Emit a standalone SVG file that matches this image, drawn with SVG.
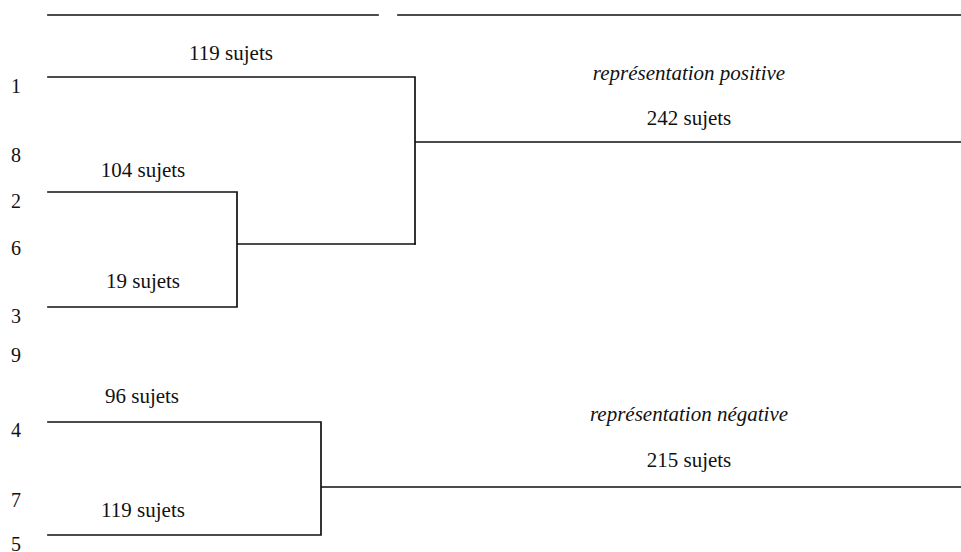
<svg xmlns="http://www.w3.org/2000/svg" width="961" height="552" viewBox="0 0 961 552">
<style>
  text { font-family: "Liberation Serif", "Times New Roman", serif; fill: #111; }
  .n { font-size: 20px; }
  .lbl { font-size: 21px; text-anchor: middle; }
  .it { font-size: 21px; font-style: italic; text-anchor: middle; }
  .ln { stroke: #111; stroke-width: 1.7; fill: none; stroke-linecap: square; }
</style>
<rect width="961" height="552" fill="#fff"/>
<g id="connectors" class="ln">
  <path d="M48 15H378M398 15H961"/>
  <path d="M48 77H415V244M415 142H961"/>
  <path d="M48 192H237V307H48M237 244H415"/>
  <path d="M48 422H321V535H48M321 487H961"/>
</g>
<g id="leaf-1"><text class="n" x="11" y="93">1</text></g>
<g id="leaf-8"><text class="n" x="11" y="162">8</text></g>
<g id="leaf-2"><text class="n" x="11" y="208">2</text></g>
<g id="leaf-6"><text class="n" x="11" y="255">6</text></g>
<g id="leaf-3"><text class="n" x="11" y="323">3</text></g>
<g id="leaf-9"><text class="n" x="11" y="362">9</text></g>
<g id="leaf-4"><text class="n" x="11" y="437">4</text></g>
<g id="leaf-7"><text class="n" x="11" y="507">7</text></g>
<g id="leaf-5"><text class="n" x="11" y="551">5</text></g>
<g id="cluster-1"><text class="lbl" x="231" y="60">119 sujets</text></g>
<g id="cluster-2"><text class="lbl" x="143" y="177">104 sujets</text></g>
<g id="cluster-3"><text class="lbl" x="143" y="288">19 sujets</text></g>
<g id="cluster-4"><text class="lbl" x="142" y="403">96 sujets</text></g>
<g id="cluster-5"><text class="lbl" x="143" y="517">119 sujets</text></g>
<g id="positive">
  <text class="it" x="689" y="80">représentation positive</text>
  <text class="lbl" x="689" y="125">242 sujets</text>
</g>
<g id="negative">
  <text class="it" x="689" y="421">représentation négative</text>
  <text class="lbl" x="689" y="467">215 sujets</text>
</g>
</svg>
